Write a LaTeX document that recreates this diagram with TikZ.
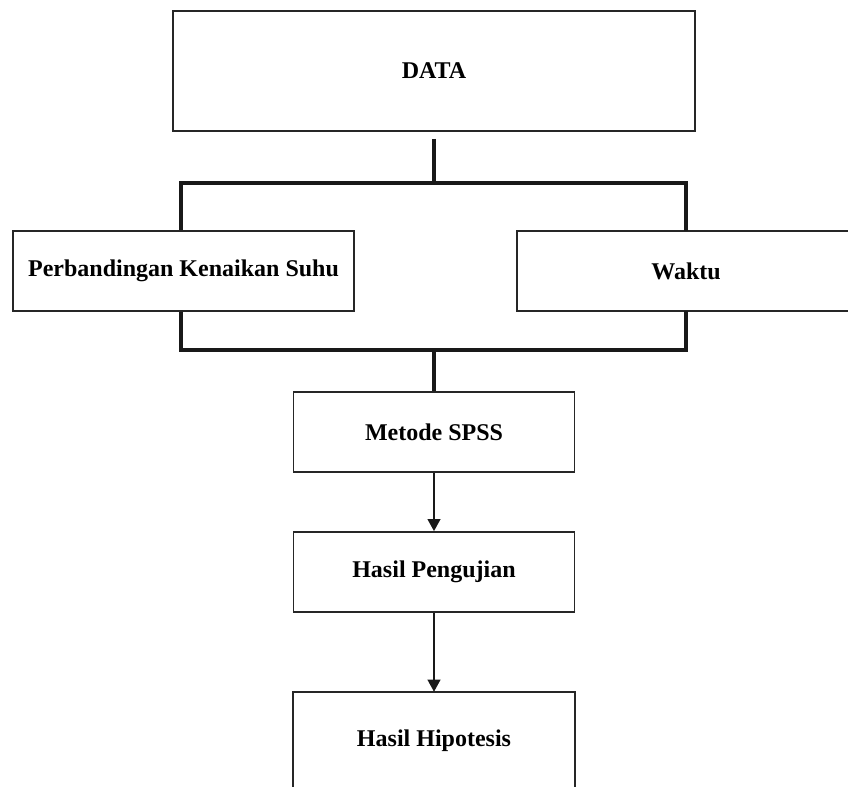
\documentclass[tikz,border=0pt]{standalone}
\usepackage{fontspec}
\setmainfont{Liberation Serif}
\usetikzlibrary{arrows.meta}
\begin{document}
\begin{tikzpicture}[x=0.75pt,y=-0.75pt,
  box/.style={draw=black!85,line width=1.3pt,fill=white,inner sep=0pt,
    font=\fontsize{18}{21}\selectfont\bfseries},
  openbox/.style={draw=none,inner sep=0pt,font=\fontsize{18}{21}\selectfont\bfseries},
  bracket/.style={line width=2.4pt,black!90},
  arr/.style={line width=1.4pt,black!90,-{Triangle[width=9.5pt,length=9pt]}}]
\useasboundingbox[fill=white] (0,0) rectangle (848,787);
\node[box,minimum width=522*0.75pt,minimum height=120*0.75pt] (data) at (434,71) {DATA};
\node[box,minimum width=341*0.75pt,minimum height=80*0.75pt] (suhu) at (183.5,271) {Perbandingan Kenaikan Suhu};
\node[openbox,minimum width=338*0.75pt,minimum height=80*0.75pt] (waktu) at (686,271) {Waktu};
\draw[line width=1.3pt,black!85] (waktu.north -| 848,0) -- (waktu.north west) -- (waktu.south west) -- (waktu.south -| 848,0);
\node[box,minimum width=281*0.75pt,minimum height=80*0.75pt] (spss) at (434,432) {Metode SPSS};
\node[box,minimum width=281*0.75pt,minimum height=80*0.75pt] (uji) at (434,572) {Hasil Pengujian};
\node[openbox,minimum width=281*0.75pt,minimum height=98*0.75pt] (hip) at (434,741) {Hasil Hipotesis};
\draw[line width=1.3pt,black!85] (hip.south west) -- (hip.north west) -- (hip.north east) -- (hip.south east);
% top bracket
\coordinate (topstart) at (434,139);
\coordinate (topbar) at (434,183);
\draw[bracket] (topstart) -- (topbar);
\draw[bracket] (suhu.north -| 181,0) |- (topbar) -| (waktu.north);
% bottom bracket
\coordinate (botbar) at (434,350);
\draw[bracket] (suhu.south -| 181,0) |- (botbar) -| (waktu.south);
\draw[bracket] (botbar) -- (spss.north);
% arrows
\draw[arr] (spss.south) -- (uji.north);
\draw[arr] (uji.south) -- (hip.north);
\end{tikzpicture}
\end{document}
